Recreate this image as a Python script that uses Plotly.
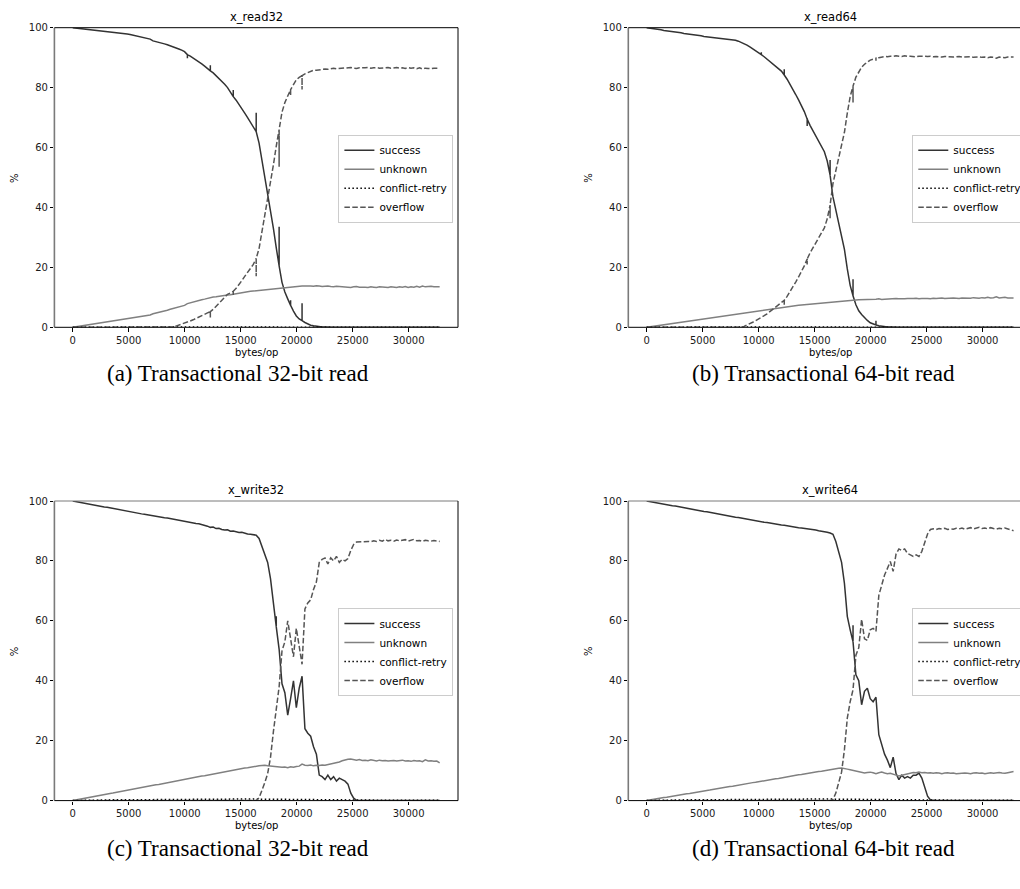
import plotly.graph_objects as go

# ---------------------------------------------------------------------------
# Data: outcome shares (%) of transactional accesses versus bytes per op
# ---------------------------------------------------------------------------
bytes_per_op = list(range(0, 32769, 256))
conflict_bytes = list(range(0, 32769, 2048))
x_ticks = [0, 5000, 10000, 15000, 20000, 25000, 30000]
y_ticks = [0, 20, 40, 60, 80, 100]

# ---- x_read32 ----
read32_success = [
    100, 99.9, 99.8, 99.7, 99.5, 99.4, 99.3, 99.2, 99.1, 99.0, 98.9, 98.8, 98.6, 98.5, 98.4, 98.3,
    98.2, 98.1, 98.0, 97.9, 97.7, 97.5, 97.3, 97.0, 96.8, 96.6, 96.4, 96.2, 95.6, 95.4, 95.2, 94.9,
    94.6, 94.3, 94.0, 93.7, 93.3, 92.9, 92.5, 92.0, 91.0, 90.5, 89.9, 89.3, 88.6, 87.9, 87.2, 86.4,
    85.6, 84.9, 84.0, 83.2, 82.2, 81.1, 80.0, 78.7, 77.0, 75.8, 74.5, 73.0, 71.5, 70.0, 68.4, 67.0,
    65.3, 61.5, 56.0, 50.0, 45.0, 39.0, 33.0, 26.5, 20.5, 15.0, 11.8, 9.5, 7.3, 5.4, 3.8, 2.8,
    2.2, 1.6, 1.1, 0.7, 0.5, 0.3, 0.2, 0.1, 0.1, 0, 0, 0, 0, 0, 0, 0,
    0, 0, 0, 0, 0, 0, 0, 0, 0, 0, 0, 0, 0, 0, 0, 0,
    0, 0, 0, 0, 0, 0, 0, 0, 0, 0, 0, 0, 0, 0, 0, 0,
    0]
read32_unknown = [
    0, 0.15, 0.3, 0.45, 0.6, 0.75, 0.9, 1.05, 1.2, 1.35, 1.5, 1.65, 1.8, 1.95, 2.1, 2.3,
    2.45, 2.6, 2.75, 2.95, 3.1, 3.2, 3.35, 3.5, 3.65, 3.8, 3.95, 4.1, 4.5, 4.7, 4.9, 5.1,
    5.4, 5.7, 6.0, 6.3, 6.5, 6.8, 7.0, 7.3, 7.9, 8.2, 8.4, 8.7, 8.9, 9.2, 9.4, 9.7,
    9.9, 10.1, 10.2, 10.4, 10.5, 10.6, 10.8, 10.9, 11.1, 11.3, 11.4, 11.6, 11.7, 11.9, 12.0, 12.1,
    12.2, 12.4, 12.5, 12.7, 12.8, 12.9, 13.0, 13.1, 13.2, 13.2, 13.3, 13.3, 13.4, 13.5, 13.6, 13.7,
    13.8, 13.8, 13.9, 13.8, 13.7, 13.9, 13.8, 13.6, 13.7, 13.8, 13.6, 13.5, 13.7, 13.6, 13.5, 13.6,
    13.4, 13.3, 13.5, 13.6, 13.4, 13.5, 13.4, 13.3, 13.5, 13.4, 13.3, 13.5, 13.4, 13.4, 13.3, 13.5,
    13.4, 13.3, 13.5, 13.4, 13.6, 13.3, 13.5, 13.4, 13.7, 13.4, 13.8, 13.5, 13.6, 13.7, 13.5, 13.6,
    13.5]
read32_overflow = [
    0, 0, 0, 0, 0, 0, 0, 0, 0, 0, 0, 0, 0, 0, 0, 0,
    0, 0, 0, 0, 0, 0, 0, 0, 0, 0, 0, 0, 0, 0, 0, 0,
    0, 0, 0, 0.1, 0.4, 0.7, 1.0, 1.3, 1.7, 2.1, 2.5, 3.0, 3.5, 3.9, 4.3, 4.8,
    5.2, 6.0, 7.0, 8.1, 9.0, 10.0, 11.0, 11.5, 12.0, 13.0, 14.2, 15.6, 17.0, 18.3, 19.5, 21.0,
    23.0, 26.3, 31.7, 37.5, 42.5, 48.3, 54.2, 60.5, 66.0, 71.8, 75.0, 77.2, 79.3, 81.0, 82.6, 83.4,
    84.0, 84.6, 85.0, 85.5, 85.8, 85.8, 86.0, 86.2, 86.2, 86.1, 86.3, 86.5, 86.3, 86.4, 86.5, 86.4,
    86.6, 86.7, 86.5, 86.4, 86.6, 86.5, 86.6, 86.7, 86.5, 86.6, 86.7, 86.5, 86.6, 86.6, 86.7, 86.5,
    86.6, 86.7, 86.5, 86.6, 86.4, 86.7, 86.5, 86.6, 86.3, 86.6, 86.2, 86.5, 86.4, 86.3, 86.5, 86.4,
    86.5]
read32_conflict = [0, 0.1, 0.1, 0.1, 0.1, 0.1, 0.1, 0.1, 0.1, 0.1, 0.1, 0.1, 0, 0, 0, 0, 0]
# single-sample outliers (bytes/op, value)
read32_success_spike_x = [10240, 12288, 14336, 16384, 18432, 19456, 20480]
read32_success_spike_y = [89.8, 87.5, 79.2, 71.6, 33.6, 9.0, 8.0]
read32_overflow_spike_x = [12288, 14336, 16384, 18432, 19456, 20480]
read32_overflow_spike_y = [3.3, 10.8, 17.0, 53.6, 77.5, 79.4]

# ---- x_read64 ----
read64_success = [
    100, 99.9, 99.7, 99.6, 99.4, 99.3, 99.1, 99.0, 98.9, 98.7, 98.6, 98.4, 98.3, 98.1, 98.0, 97.9,
    97.7, 97.6, 97.4, 97.3, 97.1, 97.0, 96.9, 96.8, 96.7, 96.5, 96.4, 96.3, 96.2, 96.0, 95.9, 95.8,
    95.5, 95.1, 94.6, 94.2, 93.6, 93.0, 92.4, 91.8, 91.0, 90.3, 89.5, 88.7, 87.9, 87.1, 86.3, 85.5,
    84.2, 82.8, 81.2, 79.5, 77.7, 75.9, 74.0, 72.0, 69.5, 67.4, 65.6, 63.9, 62.2, 60.5, 58.6, 55.5,
    50.8, 43.5, 39.2, 34.8, 30.5, 26.0, 19.5, 14.0, 10.5, 7.5, 5.5, 4.3, 3.2, 2.3, 1.5, 1.1,
    0.8, 0.5, 0.3, 0.2, 0.1, 0.1, 0, 0, 0, 0, 0, 0, 0, 0, 0, 0,
    0, 0, 0, 0, 0, 0, 0, 0, 0, 0, 0, 0, 0, 0, 0, 0,
    0, 0, 0, 0, 0, 0, 0, 0, 0, 0, 0, 0, 0, 0, 0, 0,
    0]
read64_unknown = [
    0, 0.14, 0.28, 0.42, 0.56, 0.7, 0.84, 0.98, 1.12, 1.26, 1.4, 1.54, 1.68, 1.82, 1.96, 2.1,
    2.25, 2.4, 2.55, 2.7, 2.85, 3.0, 3.1, 3.25, 3.4, 3.55, 3.7, 3.85, 4.0, 4.15, 4.3, 4.45,
    4.6, 4.75, 4.9, 5.0, 5.15, 5.3, 5.45, 5.6, 5.75, 5.9, 6.0, 6.15, 6.3, 6.4, 6.55, 6.7,
    6.8, 6.9, 7.0, 7.1, 7.2, 7.35, 7.45, 7.55, 7.65, 7.75, 7.85, 7.95, 8.05, 8.15, 8.25, 8.35,
    8.45, 8.55, 8.65, 8.75, 8.85, 8.95, 9.0, 9.05, 9.1, 9.15, 9.2, 9.2, 9.25, 9.3, 9.25, 9.35,
    9.4, 9.5, 9.3, 9.4, 9.5, 9.4, 9.5, 9.6, 9.5, 9.4, 9.5, 9.6, 9.5, 9.6, 9.7, 9.5,
    9.6, 9.7, 9.6, 9.5, 9.7, 9.6, 9.7, 9.8, 9.6, 9.7, 9.6, 9.8, 9.7, 9.6, 9.8, 9.7,
    9.8, 9.7, 9.9, 9.8, 9.7, 9.9, 9.8, 10.0, 9.8, 9.9, 10.2, 9.8, 9.9, 10.0, 9.8, 9.9,
    9.8]
read64_overflow = [
    0, 0, 0, 0, 0, 0, 0, 0, 0, 0, 0, 0, 0, 0, 0, 0,
    0, 0, 0, 0, 0, 0, 0, 0, 0, 0, 0, 0, 0, 0, 0, 0,
    0, 0, 0.3, 0.7, 1.2, 1.7, 2.2, 2.7, 3.3, 3.9, 4.5, 5.2, 5.9, 6.7, 7.5, 8.3,
    9.0, 10.3, 11.8, 13.4, 15.1, 16.8, 18.6, 20.5, 22.8, 24.8, 26.5, 28.2, 29.8, 31.4, 33.2, 36.2,
    40.8, 48.0, 52.3, 56.6, 60.7, 65.1, 71.5, 77.0, 80.5, 83.5, 85.3, 86.8, 87.8, 88.5, 89.2, 89.5,
    89.8, 90.0, 90.2, 90.4, 90.3, 90.5, 90.4, 90.6, 90.5, 90.4, 90.6, 90.4, 90.5, 90.4, 90.3, 90.5,
    90.4, 90.3, 90.4, 90.5, 90.3, 90.4, 90.3, 90.2, 90.4, 90.3, 90.4, 90.2, 90.3, 90.4, 90.2, 90.3,
    90.2, 90.3, 90.1, 90.2, 90.3, 90.1, 90.2, 90.0, 90.2, 90.1, 89.8, 90.2, 90.1, 90.0, 90.2, 90.1,
    90.2]
read64_conflict = [0, 0.1, 0.1, 0.1, 0.1, 0.1, 0.1, 0.1, 0.1, 0.1, 0.1, 0, 0, 0, 0, 0, 0]
read64_success_spike_x = [10240, 12288, 14336, 16384, 18432, 20480]
read64_success_spike_y = [91.8, 86.1, 67.2, 55.8, 16.0, 2.2]
read64_overflow_spike_x = [12288, 14336, 16384, 18432, 20480]
read64_overflow_spike_y = [7.5, 21.0, 36.4, 75.0, 89.0]

# ---- x_write32 ----
write32_success = [
    100, 99.8, 99.6, 99.5, 99.3, 99.1, 98.9, 98.8, 98.6, 98.4, 98.2, 98.0, 97.9, 97.7, 97.5, 97.3,
    97.1, 97.0, 96.8, 96.6, 96.4, 96.3, 96.1, 95.9, 95.7, 95.6, 95.4, 95.2, 95.1, 94.9, 94.8, 94.6,
    94.4, 94.3, 94.1, 93.9, 93.8, 93.6, 93.4, 93.2, 93.0, 92.9, 92.7, 92.5, 92.4, 92.2, 92.0, 91.6,
    91.2, 91.3, 90.8, 90.9, 90.5, 90.3, 90.4, 89.9, 90.0, 89.7, 89.5, 89.6, 89.2, 89.0, 88.9, 88.7,
    88.6, 87.5, 85.0, 82.5, 79.5, 74.0, 65.5, 58.0, 50.5, 39.0, 36.0, 28.5, 34.0, 40.0, 31.0, 37.5,
    41.5, 24.0, 22.5, 21.5, 18.0, 15.5, 8.5, 8.0, 7.0, 8.5, 7.0, 8.0, 6.5, 7.5, 7.0, 6.5,
    5.5, 2.5, 0.8, 0.1, 0, 0, 0, 0, 0, 0, 0, 0, 0, 0, 0, 0,
    0, 0, 0, 0, 0, 0, 0, 0, 0, 0, 0, 0, 0, 0, 0, 0,
    0]
write32_unknown = [
    0, 0.2, 0.4, 0.5, 0.7, 0.9, 1.1, 1.3, 1.5, 1.6, 1.8, 2.0, 2.2, 2.4, 2.5, 2.7,
    2.9, 3.1, 3.3, 3.5, 3.6, 3.8, 4.0, 4.2, 4.4, 4.5, 4.7, 4.9, 5.1, 5.3, 5.4, 5.6,
    5.8, 6.0, 6.2, 6.4, 6.5, 6.7, 6.9, 7.1, 7.3, 7.4, 7.6, 7.8, 8.0, 8.2, 8.3, 8.5,
    8.7, 8.9, 9.1, 9.3, 9.4, 9.6, 9.8, 10.0, 10.2, 10.3, 10.5, 10.7, 10.9, 11.0, 11.2, 11.3,
    11.5, 11.6, 11.7, 11.8, 11.6, 11.5, 11.4, 11.2, 11.3, 11.1, 11.2, 11.0, 11.3, 11.1, 11.4, 11.5,
    12.2, 11.8, 11.7, 11.9, 11.6, 11.8, 11.7, 11.9, 11.8, 12.0, 12.3, 12.4, 12.6, 12.9, 13.3, 13.6,
    13.8, 13.9, 13.6, 13.5, 13.7, 13.4, 13.5, 13.3, 13.6, 13.4, 13.2, 13.5, 13.3, 13.4, 13.2, 13.3,
    13.4, 13.2, 13.3, 13.5, 13.2, 13.3, 13.1, 13.4, 13.2, 13.3, 13.0, 13.6, 13.2, 13.3, 13.1, 13.2,
    12.6]
write32_overflow = [
    0, 0, 0, 0, 0, 0, 0, 0, 0, 0, 0, 0, 0, 0, 0, 0,
    0, 0, 0, 0, 0, 0, 0, 0, 0, 0, 0, 0, 0, 0, 0, 0,
    0, 0, 0, 0, 0, 0, 0, 0, 0, 0, 0, 0, 0, 0, 0, 0,
    0, 0, 0, 0, 0, 0, 0, 0, 0, 0, 0, 0, 0, 0, 0, 0,
    0.0, 0.9, 3.2, 6.0, 9.0, 14.5, 23.0, 31.0, 38.0, 50.0, 53.0, 60.0, 54.5, 48.0, 57.5, 51.0,
    45.5, 64.0, 66.0, 67.0, 70.5, 73.0, 79.5, 80.5, 81.0, 79.0, 81.0, 80.0, 81.5, 79.5, 80.5, 80.0,
    80.8, 83.5, 85.5, 86.3, 86.4, 86.3, 86.6, 86.5, 86.4, 86.7, 86.5, 86.9, 86.6, 87.2, 86.7, 86.9,
    86.6, 87.0, 86.7, 86.8, 87.1, 86.6, 86.9, 87.2, 86.7, 86.8, 86.5, 86.9, 86.7, 86.6, 86.8, 86.7,
    86.5]
write32_conflict = [0, 0.2, 0.3, 0.3, 0.4, 0.4, 0.5, 0.5, 0.5, 0.4, 0.4, 0.3, 0.2, 0.1, 0.1, 0.1, 0.1]
write32_success_spike_x = [18176]
write32_success_spike_y = [61.5]
write32_overflow_spike_x = []
write32_overflow_spike_y = []

# ---- x_write64 ----
write64_success = [
    100, 99.8, 99.7, 99.5, 99.3, 99.1, 99.0, 98.8, 98.6, 98.4, 98.3, 98.1, 97.9, 97.7, 97.6, 97.4,
    97.2, 97.0, 96.9, 96.7, 96.5, 96.4, 96.2, 96.0, 95.8, 95.7, 95.5, 95.3, 95.1, 95.0, 94.8, 94.6,
    94.5, 94.3, 94.1, 93.9, 93.8, 93.6, 93.4, 93.2, 93.1, 92.9, 92.8, 92.6, 92.5, 92.3, 92.2, 92.0,
    91.9, 91.7, 91.6, 91.4, 91.3, 91.1, 91.0, 90.9, 90.7, 90.6, 90.4, 90.3, 90.1, 90.0, 89.8, 89.6,
    89.3, 88.9, 86.5, 83.0, 79.5, 72.5, 61.5, 57.0, 53.0, 42.0, 40.0, 32.0, 36.5, 37.5, 34.0, 33.0,
    34.5, 22.0, 18.5, 15.5, 13.5, 11.0, 14.5, 9.0, 7.0, 8.5, 7.5, 8.0, 7.5, 8.5, 8.5, 9.2,
    7.5, 4.5, 1.5, 0.2, 0, 0, 0, 0, 0, 0, 0, 0, 0, 0, 0, 0,
    0, 0, 0, 0, 0, 0, 0, 0, 0, 0, 0, 0, 0, 0, 0, 0,
    0]
write64_unknown = [
    0, 0.2, 0.3, 0.5, 0.6, 0.8, 1.0, 1.1, 1.3, 1.5, 1.6, 1.8, 1.9, 2.1, 2.3, 2.4,
    2.6, 2.7, 2.9, 3.1, 3.2, 3.4, 3.5, 3.7, 3.9, 4.0, 4.2, 4.4, 4.5, 4.7, 4.8, 5.0,
    5.2, 5.3, 5.5, 5.7, 5.8, 6.0, 6.1, 6.3, 6.5, 6.6, 6.8, 6.9, 7.1, 7.3, 7.4, 7.6,
    7.7, 7.9, 8.1, 8.2, 8.4, 8.6, 8.7, 8.9, 9.0, 9.2, 9.4, 9.5, 9.7, 9.8, 10.0, 10.2,
    10.3, 10.5, 10.7, 10.8, 10.9, 10.8, 10.5, 10.3, 10.1, 9.8, 9.6, 9.3, 9.2, 9.4, 9.5, 9.3,
    9.0, 9.3, 9.5, 9.2, 9.0, 9.1, 8.7, 8.5, 8.2, 8.4, 8.6, 8.9, 9.2, 9.4, 9.3, 9.5,
    9.3, 9.4, 9.2, 9.3, 9.1, 9.3, 9.2, 9.0, 9.2, 9.3, 9.1, 9.2, 9.0, 9.1, 9.3, 9.2,
    9.1, 9.0, 9.2, 9.3, 9.1, 9.2, 9.0, 9.2, 9.3, 9.1, 9.2, 9.4, 9.2, 9.1, 9.3, 9.4,
    9.7]
write64_overflow = [
    0, 0, 0, 0, 0, 0, 0, 0, 0, 0, 0, 0, 0, 0, 0, 0,
    0, 0, 0, 0, 0, 0, 0, 0, 0, 0, 0, 0, 0, 0, 0, 0,
    0, 0, 0, 0, 0, 0, 0, 0, 0, 0, 0, 0, 0, 0, 0, 0,
    0, 0, 0, 0, 0, 0, 0, 0, 0, 0, 0, 0, 0, 0, 0, 0,
    0.0, 0.4, 2.5, 6.0, 9.5, 17.0, 27.5, 33.0, 37.0, 48.5, 51.0, 60.5, 54.0, 53.5, 57.0, 57.5,
    56.5, 68.5, 72.0, 75.3, 77.5, 79.8, 76.5, 82.3, 84.0, 83.5, 84.0, 82.5, 82.0, 81.5, 82.0, 81.5,
    83.2, 86.2, 89.0, 90.5, 90.7, 90.5, 90.8, 90.6, 90.9, 90.5, 90.7, 90.6, 90.9, 90.7, 91.0, 90.6,
    90.8, 91.1, 90.7, 90.9, 91.2, 90.8, 91.0, 90.7, 91.1, 90.8, 90.6, 90.9, 90.7, 91.0, 90.6, 90.4,
    90.1]
write64_conflict = [0, 0.2, 0.3, 0.3, 0.4, 0.4, 0.5, 0.5, 0.5, 0.4, 0.4, 0.3, 0.2, 0.1, 0.1, 0.1, 0.1]
write64_success_spike_x = [18432]
write64_success_spike_y = [58.5]
write64_overflow_spike_x = []
write64_overflow_spike_y = []

# ---------------------------------------------------------------------------
# Page geometry (pixels) and styles
# ---------------------------------------------------------------------------
W, H = 1020, 889
AX_W, AX_H = 403.6, 299.6           # axes box size
X_LO, X_HI = -1638.4, 34406.4       # full x range of one axes box
TEXT = "DejaVu Sans"

STYLE = {
    "success": dict(color="#333333", width=1.5),
    "unknown": dict(color="#808080", width=1.5),
    "conflict-retry": dict(color="#000000", width=1.5, dash="1.5px,2.5px"),
    "overflow": dict(color="#555555", width=1.5, dash="5.5px,2.4px"),
}

panels = [
    dict(title="x_read32", caption="(a) Transactional 32-bit read", left=54.4, top=27.7,
         cap_x=238, cap_y=373,
         success=(read32_success, read32_success_spike_x, read32_success_spike_y),
         unknown=read32_unknown,
         conflict=read32_conflict,
         overflow=(read32_overflow, read32_overflow_spike_x, read32_overflow_spike_y)),
    dict(title="x_read64", caption="(b) Transactional 64-bit read", left=628.3, top=27.7,
         cap_x=823, cap_y=373,
         success=(read64_success, read64_success_spike_x, read64_success_spike_y),
         unknown=read64_unknown,
         conflict=read64_conflict,
         overflow=(read64_overflow, read64_overflow_spike_x, read64_overflow_spike_y)),
    dict(title="x_write32", caption="(c) Transactional 32-bit read", left=54.4, top=501.0,
         cap_x=238, cap_y=848,
         success=(write32_success, write32_success_spike_x, write32_success_spike_y),
         unknown=write32_unknown,
         conflict=write32_conflict,
         overflow=(write32_overflow, write32_overflow_spike_x, write32_overflow_spike_y)),
    dict(title="x_write64", caption="(d) Transactional 64-bit read", left=628.3, top=501.0,
         cap_x=823, cap_y=848,
         success=(write64_success, write64_success_spike_x, write64_success_spike_y),
         unknown=write64_unknown,
         conflict=write64_conflict,
         overflow=(write64_overflow, write64_overflow_spike_x, write64_overflow_spike_y)),
]


def with_spikes(xs, ys, spike_x, spike_y):
    """Insert single-sample outliers as vertical excursions at their x."""
    tips = dict(zip(spike_x, spike_y))
    out_x, out_y = [], []
    for x, y in zip(xs, ys):
        out_x.append(x)
        out_y.append(y)
        if x in tips:
            out_x += [x, x]
            out_y += [tips[x], y]
    return out_x, out_y


def fx(p):
    return p / W


def fy(p):
    return 1 - p / H


fig = go.Figure()
layout = dict(
    width=W, height=H,
    margin=dict(l=0, r=0, t=0, b=0, autoexpand=False),
    paper_bgcolor="white", plot_bgcolor="white",
    font=dict(family=TEXT, size=10, color="#000000"),
    shapes=[], annotations=[],
)

for i, p in enumerate(panels, 1):
    sfx = "" if i == 1 else str(i)
    xref, yref = "x" + sfx, "y" + sfx
    legend_name = "legend" + sfx

    right_px = min(p["left"] + AX_W, W)
    x_hi = X_LO + (right_px - p["left"]) / AX_W * (X_HI - X_LO)
    bottom_px = p["top"] + AX_H

    series = [
        ("success",) + with_spikes(bytes_per_op, *p["success"]),
        ("unknown", bytes_per_op, p["unknown"]),
        ("conflict-retry", conflict_bytes, p["conflict"]),
        ("overflow",) + with_spikes(bytes_per_op, *p["overflow"]),
    ]
    for name, xs, ys in series:
        fig.add_trace(go.Scatter(
            x=xs, y=ys, mode="lines", name=name, line=STYLE[name],
            xaxis=xref, yaxis=yref, legend=legend_name, hoverinfo="skip",
        ))

    axis_common = dict(
        showgrid=False, zeroline=False, showline=False,
        ticks="outside", ticklen=3.5, tickwidth=1, tickcolor="#000000",
        tickfont=dict(family=TEXT, size=10, color="#1a1a1a"),
    )
    layout["xaxis" + sfx] = dict(
        axis_common, domain=[fx(p["left"]), fx(right_px)], range=[X_LO, x_hi],
        anchor=yref, tickvals=x_ticks, ticktext=[str(v) for v in x_ticks],
    )
    layout["yaxis" + sfx] = dict(
        axis_common, domain=[fy(bottom_px), fy(p["top"])], range=[0, 100],
        anchor=xref, tickvals=y_ticks,
    )

    # axes frame
    top_color = "#000000" if p["top"] < 100 else "#7a7a7a"
    spines = [
        (0, 0, 0, 1, "#7a7a7a", 1.6),     # left
        (0, 1, 0, 0, "#000000", 1.0),     # bottom
        (0, 1, 1, 1, top_color, 1.0),     # top
    ]
    if p["left"] + AX_W <= W:
        spines.append((1, 1, 0, 1, "#000000", 1.0))   # right
    for x0, x1, y0, y1, col, wd in spines:
        layout["shapes"].append(dict(
            type="line", xref=xref + " domain", yref=yref + " domain",
            x0=x0, x1=x1, y0=y0, y1=y1, line=dict(color=col, width=wd), layer="above",
        ))

    cx = p["left"] + AX_W / 2
    layout["annotations"] += [
        dict(text=p["title"], x=fx(cx), y=fy(p["top"] - 11), xref="paper", yref="paper",
             showarrow=False, xanchor="center", yanchor="middle",
             font=dict(family=TEXT, size=11.5, color="#000000")),
        dict(text="bytes/op", x=fx(cx), y=fy(bottom_px + 25), xref="paper", yref="paper",
             showarrow=False, xanchor="center", yanchor="middle",
             font=dict(family=TEXT, size=10, color="#000000")),
        dict(text="%", x=fx(p["left"] - 40), y=fy(p["top"] + AX_H / 2), xref="paper", yref="paper",
             showarrow=False, xanchor="center", yanchor="middle", textangle=-90,
             font=dict(family=TEXT, size=10, color="#000000")),
        dict(text=p["caption"], x=fx(p["cap_x"]), y=fy(p["cap_y"]), xref="paper", yref="paper",
             showarrow=False, xanchor="center", yanchor="middle",
             font=dict(family="Liberation Serif", size=23, color="#000000")),
    ]

    layout[legend_name] = dict(
        x=fx(p["left"] + 284), y=fy(p["top"] + 107), xanchor="left", yanchor="top",
        bgcolor="rgba(255,255,255,0.85)", bordercolor="#cccccc", borderwidth=1,
        font=dict(family=TEXT, size=10.5, color="#000000"), tracegroupgap=0,
    )

fig.update_layout(**layout)
fig.write_html("out.html")
